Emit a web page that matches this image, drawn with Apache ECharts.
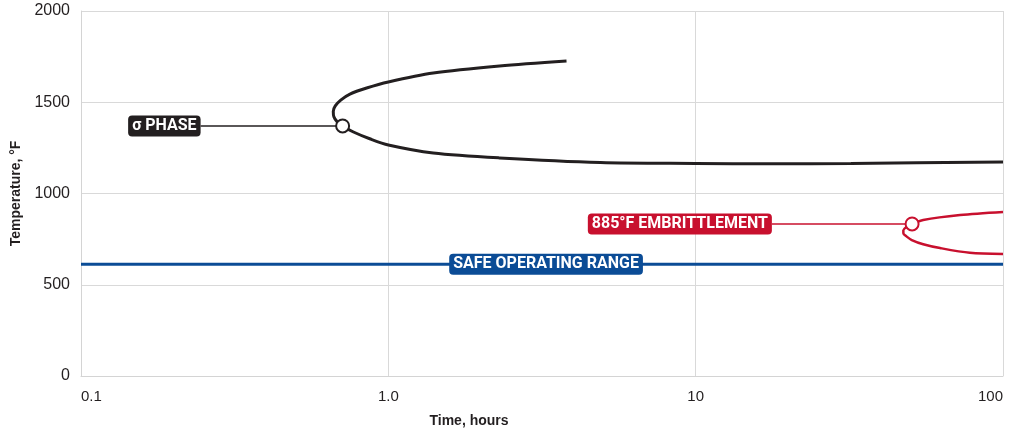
<!DOCTYPE html>
<html>
<head>
<meta charset="utf-8">
<script src="https://cdn.jsdelivr.net/npm/echarts@6/dist/echarts.min.js"></script>
<style>html,body{margin:0;padding:0;background:#fff;}#c{width:1013px;height:429px;}</style>
</head>
<body>
<div id="c"></div>
<script>
// Time (hours) vs Temperature (°F)
const xTicks = [0.1, 1, 10, 100];
const xTickLabels = ['0.1', '1.0', '10', '100'];
const yTicks = [0, 500, 1000, 1500, 2000];

const sigmaCurve = [[3.8,1726],[2.3,1699],[1.4,1660],[1.0,1611],[0.85,1578],[0.75,1545],[0.7,1512],[0.672,1480],[0.662,1450],[0.665,1420],[0.68,1395],[0.71,1370],[0.77,1337],[0.87,1300],[1.0,1266],[1.4,1222],[2.3,1195],[4.9,1170],[10,1165],[17.5,1163],[32,1165],[100,1172]];
const sigmaMarker = [0.71, 1370];
const sigmaLabelAt = [0.245, 1370];
const sigmaLabel = 'σ PHASE';

const embCurve = [[100,899],[72.5,882],[55,855],[50.6,833],[48.4,815],[47.4,798],[47.4,782],[48.5,765],[50.5,745],[55,722],[62.4,701],[78,675],[100,668]];
const embMarker = [50.6, 833];
const embLabelAt = [17.7, 833];
const embLabel = '885°F EMBRITTLEMENT';

const safeTemp = 613;
const safeRange = [0.1, 100];
const safeLabelAt = [3.26, 613];
const safeLabel = 'SAFE OPERATING RANGE';

const DARK = '#231f20', RED = '#c8102e', BLUE = '#0b4c96';
const labFont = 'Roboto';

function boxLabel(text, bg, pos){
  return {show:true, formatter:text, position:pos, distance:0, color:'#fff', fontFamily:labFont,
    fontWeight:'bold', fontSize:16, lineHeight:18, backgroundColor:bg, borderRadius:4, padding:[2,4,1,4]};
}
const noFade = {opacity:1};

const chart = echarts.init(document.getElementById('c'), null, {renderer:'canvas'});
chart.setOption({
  animation:false,
  grid:{left:81, right:10, top:11, bottom:53, outerBoundsMode:'none', containLabel:false},
  xAxis:{type:'log', logBase:10, min:xTicks[0], max:xTicks[xTicks.length-1],
    axisLine:{show:true, lineStyle:{color:'#d4d4d4'}}, axisTick:{show:false}, minorTick:{show:false},
    splitLine:{show:true, lineStyle:{color:'#d9d9d9', width:1}},
    axisLabel:{color:'#231f20', fontFamily:'Liberation Sans', fontSize:15, margin:13,
      alignMinLabel:'left', alignMaxLabel:'right',
      formatter:function(v){const i = xTicks.findIndex(t=>Math.abs(t-v)/t<1e-6); return i>=0?xTickLabels[i]:'';}},
    name:'Time, hours', nameLocation:'middle', nameGap:38,
    nameTextStyle:{color:'#231f20', fontFamily:'Liberation Sans', fontWeight:'bold', fontSize:14, padding:[0,146,0,0]}
  },
  yAxis:{type:'value', min:yTicks[0], max:yTicks[yTicks.length-1], interval:500,
    axisLine:{show:true, lineStyle:{color:'#d4d4d4'}}, axisTick:{show:false},
    splitLine:{show:true, lineStyle:{color:'#d9d9d9', width:1}},
    axisLabel:{color:'#231f20', fontFamily:'Liberation Sans', fontSize:16, margin:11,
      formatter:function(v){return String(v);}},
    name:'Temperature, °F', nameLocation:'middle', nameGap:48,
    nameTextStyle:{color:'#231f20', fontFamily:'Liberation Sans', fontWeight:'bold', fontSize:14}
  },
  series:[
    {type:'line', data:[[safeRange[0],safeTemp],[safeRange[1],safeTemp]], symbol:'none',
      lineStyle:{color:BLUE, width:3}, z:2},
    {type:'scatter', data:[safeLabelAt], symbolSize:0, itemStyle:noFade, label:boxLabel(safeLabel, BLUE, 'inside'), z:5},
    {type:'line', data:[sigmaLabelAt, sigmaMarker], symbol:'none', lineStyle:{color:DARK, width:1.5}, z:3},
    {type:'line', data:sigmaCurve, symbol:'none', smooth:0.3, lineStyle:{color:DARK, width:3}, z:3},
    {type:'scatter', data:[sigmaMarker], symbol:'circle', symbolSize:13,
      itemStyle:{color:'#fff', borderColor:DARK, borderWidth:2, opacity:1}, z:6},
    {type:'scatter', data:[sigmaLabelAt], symbolSize:0, itemStyle:noFade, label:boxLabel(sigmaLabel, DARK, 'left'), z:5},
    {type:'line', data:[embLabelAt, embMarker], symbol:'none', lineStyle:{color:RED, width:1.5}, z:3},
    {type:'line', data:embCurve, symbol:'none', smooth:0.3, lineStyle:{color:RED, width:2.5}, z:3},
    {type:'scatter', data:[embMarker], symbol:'circle', symbolSize:13,
      itemStyle:{color:'#fff', borderColor:RED, borderWidth:2, opacity:1}, z:6},
    {type:'scatter', data:[embLabelAt], symbolSize:0, itemStyle:noFade, label:boxLabel(embLabel, RED, 'left'), z:5}
  ]
});
</script>
</body>
</html>
